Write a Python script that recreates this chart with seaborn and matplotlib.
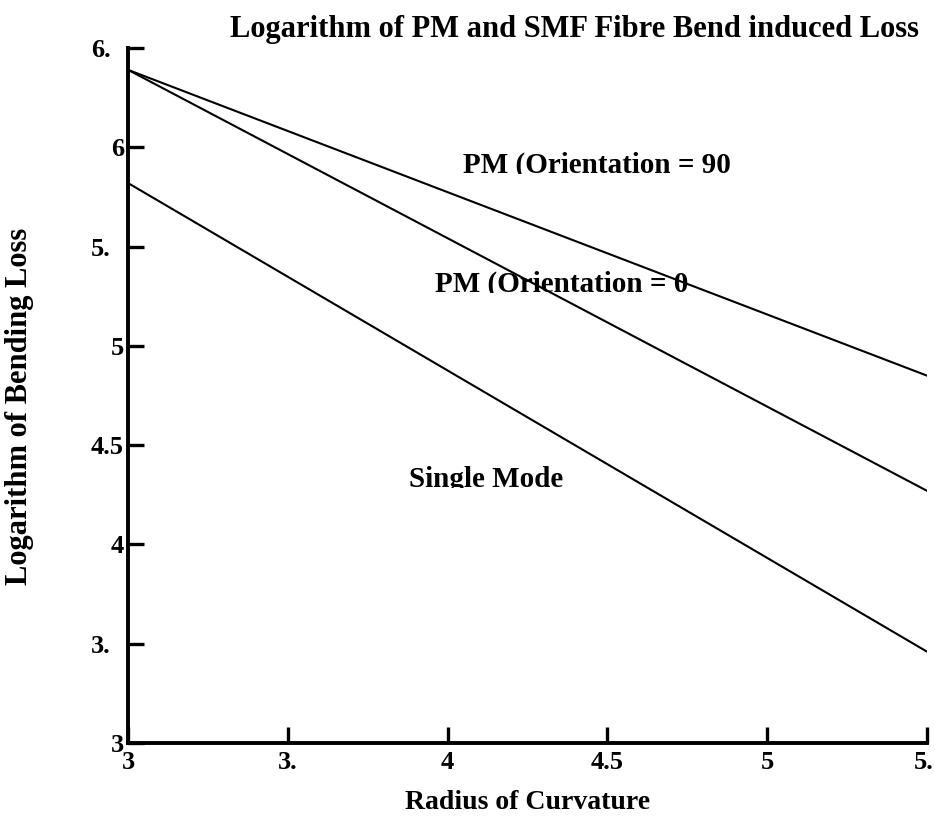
import matplotlib
matplotlib.use("Agg")
import matplotlib.pyplot as plt
import matplotlib.transforms as mtransforms
import seaborn as sns
import pandas as pd

# ---- data ----
radius = [3.0, 5.5]
pm90 = [6.39, 4.85]
pm0 = [6.39, 4.27]
single_mode = [5.82, 3.46]
series_names = ["PM (Orientation = 90", "PM (Orientation = 0", "Single Mode"]

x_ticks = [3.0, 3.5, 4.0, 4.5, 5.0, 5.5]
x_tick_labels = ["3", "3.", "4", "4.5", "5", "5."]
y_ticks = [3.0, 3.5, 4.0, 4.5, 5.0, 5.5, 6.0, 6.5]
y_tick_labels = ["3", "3.", "4", "4.5", "5", "5.", "6", "6."]

title = "Logarithm of PM and SMF Fibre Bend induced Loss"
x_label = "Radius of Curvature"
y_label = "Logarithm of Bending Loss"

# label anchor positions (data coords)
label_x = [4.467, 4.358, 4.12]
label_y = [5.87, 5.271, 4.289]

# ---- build long table ----
rows = []
for name, vals in zip(series_names, [pm90, pm0, single_mode]):
    for x, y in zip(radius, vals):
        rows.append({"radius": x, "loss": y, "series": name})
df = pd.DataFrame(rows)

sns.set_style("white")
plt.rcParams["font.family"] = ["Liberation Serif", "DejaVu Serif"]
plt.rcParams["font.weight"] = "bold"
plt.rcParams["text.color"] = "black"
plt.rcParams["axes.labelcolor"] = "black"
plt.rcParams["xtick.color"] = "black"
plt.rcParams["ytick.color"] = "black"

fig = plt.figure(figsize=(9.35, 8.16), dpi=100)
ax = fig.add_axes([128 / 935, 1 - 743 / 816, (927 - 128) / 935, (743 - 48) / 816])

sns.lineplot(data=df, x="radius", y="loss", hue="series",
             palette=["black"] * 3, linewidth=1.5, legend=False, ax=ax)

ax.set_xlim(3.0, 5.5)
ax.set_ylim(3.0, 6.5)

for s in ["top", "right"]:
    ax.spines[s].set_visible(False)
for s in ["left", "bottom"]:
    ax.spines[s].set_linewidth(2.8)
    ax.spines[s].set_color("black")
    ax.spines[s].set_capstyle("projecting")

TICK_FS = 19
ax.set_xticks(x_ticks)
ax.set_xticklabels(x_tick_labels)
ax.set_yticks(y_ticks)
ax.set_yticklabels(y_tick_labels)
ax.tick_params(axis="both", direction="in", length=11.5, width=2.4,
               labelsize=TICK_FS, colors="black", left=True, bottom=True)
ax.tick_params(axis="x", pad=6)
ax.tick_params(axis="y", pad=3)

# truncated y labels ("x.5" shown as "x.") keep the left position of the full label
dig_shift = mtransforms.ScaledTranslation(-0.5 * TICK_FS / 72, 0, fig.dpi_scale_trans)
for lab in ax.get_yticklabels():
    lab.set_fontweight("bold")
    if lab.get_text().endswith("."):
        lab.set_transform(lab.get_transform() + dig_shift)
xlabs = ax.get_xticklabels()
for lab in xlabs:
    lab.set_fontweight("bold")
# keep the last x label inside the canvas
edge_shift = mtransforms.ScaledTranslation(-3 / 100, 0, fig.dpi_scale_trans)
xlabs[-1].set_transform(xlabs[-1].get_transform() + edge_shift)

ax.set_xlabel(x_label, fontsize=20, fontweight="bold")
ax.xaxis.set_label_coords(0.5, (743 - 790) / 695, transform=ax.transAxes)
ax.set_ylabel(y_label, fontsize=22, fontweight="bold")
ax.yaxis.set_label_coords((34 - 128) / 799, (743 - 406) / 695, transform=ax.transAxes)

fig.text(574 / 935, 1 - 30 / 816, title, ha="center", va="center",
         fontsize=22, fontweight="bold")

# series annotations, cut at their baseline as in the reference
for name, lx, ly in zip(series_names, label_x, label_y):
    t = ax.text(lx, ly, name, ha="center", va="baseline", fontsize=21,
                fontweight="bold", clip_on=True)
    clip = mtransforms.Bbox([[2.0, ly - 0.004], [7.0, 8.0]])
    t.set_clip_box(mtransforms.TransformedBbox(clip, ax.transData))

fig.savefig("out.png", dpi=100)
